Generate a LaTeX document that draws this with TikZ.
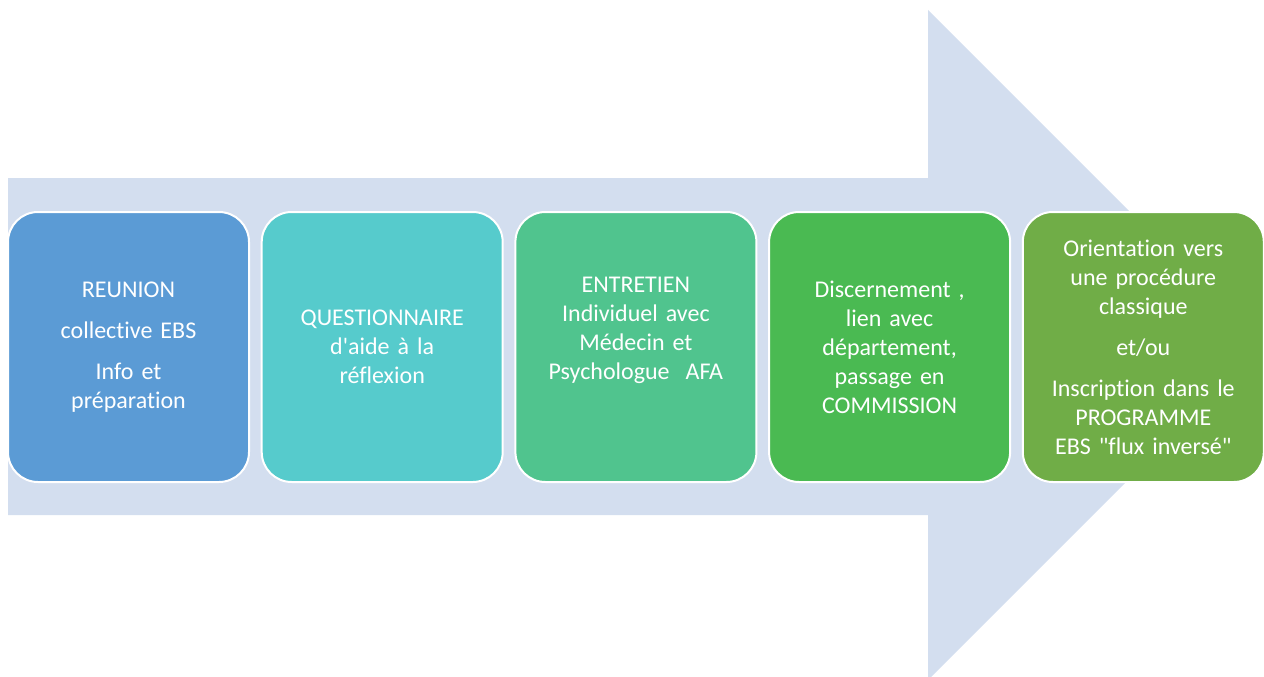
\documentclass[tikz,border=0pt]{standalone}
\usepackage{fontspec}
\setmainfont{Carlito}[Ligatures={TeXOff,NoCommon}]
\usepackage{tikz}
\usetikzlibrary{positioning}
\definecolor{flowbg}{RGB}{211,222,239}
\definecolor{stepA}{RGB}{91,155,213}
\definecolor{stepB}{RGB}{86,203,204}
\definecolor{stepC}{RGB}{80,196,142}
\definecolor{stepD}{RGB}{74,186,82}
\definecolor{stepE}{RGB}{112,173,71}
\tikzstyle{stepbox}=[draw=white, line width=2pt, rounded corners=30pt, minimum width=241pt, minimum height=270pt, text width=225pt, align=center, text=white, font=\fontsize{24}{29}\selectfont, inner sep=0pt]
\begin{document}
\begin{tikzpicture}[x=1pt,y=-1pt,node distance=10.7pt]
\useasboundingbox (0,0) rectangle (1264,677);
% big arrow behind the steps
\coordinate (tail1) at (8,178);
\coordinate (tail2) at (8,515);
\coordinate (neck1) at (928,178);
\coordinate (neck2) at (928,515);
\coordinate (barb1) at (928,10);
\coordinate (barb2) at (928,680);
\coordinate (tip) at (1263,345);
\fill[flowbg] (tail1) -- (neck1) -- (barb1) -- (tip) -- (barb2) -- (neck2) -- (tail2) -- cycle;
\node[stepbox, fill=stepA] (reunion) at (128.5,347) {REUNION\\[12pt]collective EBS\\[12pt]Info et\\préparation};
\node[stepbox, fill=stepB, right=of reunion] (questionnaire) {QUESTIONNAIRE\\d'aide à la\\réflexion};
\node[stepbox, fill=stepC, right=of questionnaire] (entretien) {ENTRETIEN\\Individuel avec\\Médecin et\\Psychologue\ \ AFA\\[9pt]~};
\node[stepbox, fill=stepD, right=of entretien] (commission) {Discernement ,\\lien avec\\département,\\passage en\\COMMISSION};
\node[stepbox, fill=stepE, right=of commission] (orientation) {Orientation vers\\une procédure\\classique\\[12pt]et/ou\\[12pt]Inscription dans le\\PROGRAMME\\EBS "flux inversé"};
\end{tikzpicture}
\end{document}
